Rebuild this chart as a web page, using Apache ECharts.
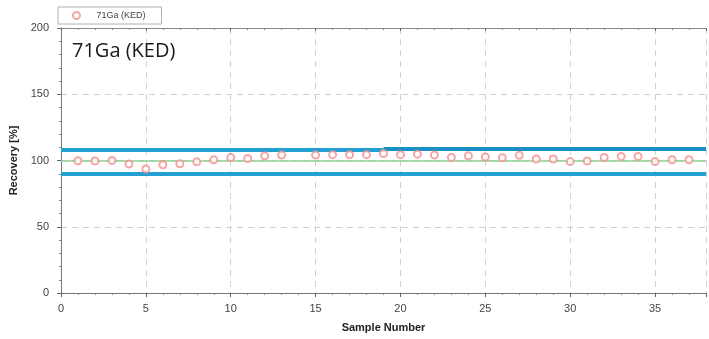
<!DOCTYPE html>
<html><head><meta charset="utf-8">
<script src="https://cdn.jsdelivr.net/npm/echarts@6/dist/echarts.min.js"></script>
<style>html,body{margin:0;padding:0;background:#fff}#c{width:709px;height:339px}</style>
</head><body><div id="c"></div>
<script>
const seriesName = '71Ga (KED)';
const titleText = '71Ga (KED)';
const sampleNumbers = [1,2,3,4,5,6,7,8,9,10,11,12,13,15,16,17,18,19,20,21,22,23,24,25,26,27,28,29,30,31,32,33,34,35,36,37];
const recovery = [99.8,99.6,100.0,97.4,93.6,96.8,97.5,99.0,100.5,102.2,101.5,103.5,104.1,104.1,104.4,104.4,104.4,105.3,104.4,104.8,104.1,102.3,103.6,102.6,102.1,103.9,101.1,101.1,99.2,99.6,102.3,103.1,103.1,99.2,100.6,100.6];
const upperLimitLeft = 108.2;
const upperLimitRight = 109.1;
const lowerLimit = 90;
const centerLine = 100;
const limitBreak = 19;
const xTicks = [0,5,10,15,20,25,30,35];
const yTicks = [0,50,100,150,200];

const chart = echarts.init(document.getElementById('c'));
const font = 'Liberation Sans, Arial, sans-serif';
chart.setOption({
  animation: false,
  grid: {left: 60, right: 0, top: 28, bottom: 46},
  title: {text: titleText, left: 67, top: 36, textStyle: {fontFamily: 'Open Sans, sans-serif', fontSize: 20, fontWeight: 'normal', color: '#1a1a1a'}},
  legend: {
    data: [seriesName], left: 58, top: 7, itemWidth: 10, itemHeight: 7, itemGap: 0,
    borderColor: '#b0b0b0', borderWidth: 1, padding: [4, 16, 4, 14],
    textStyle: {fontFamily: font, fontSize: 9, color: '#444', padding: [0, 0, 0, 10]}
  },
  xAxis: [{
    type: 'value', min: xTicks[0], max: 38, interval: 5, name: 'Sample Number',
    nameLocation: 'middle', nameGap: 29,
    nameTextStyle: {fontFamily: font, fontSize: 11, fontWeight: 'bold', color: '#222'},
    axisLine: {lineStyle: {color: '#777', width: 1}},
    axisTick: {show: true, length: 4, inside: false, lineStyle: {color: '#666'}},
    minorTick: {show: true, splitNumber: 5, length: 2, lineStyle: {color: '#888'}},
    axisLabel: {fontFamily: font, fontSize: 11, color: '#444', margin: 10,
      formatter: v => xTicks.includes(v) ? String(v) : ''},
    splitLine: {show: true, lineStyle: {color: '#d0d0d0', type: [6, 5]}}
  }, {
    type: 'value', position: 'top', min: 0, max: 38, interval: 5,
    axisLine: {show: true, lineStyle: {color: '#888'}},
    axisTick: {show: true, length: 3, inside: true, lineStyle: {color: '#666'}},
    minorTick: {show: true, splitNumber: 5, length: 2, lineStyle: {color: '#888'}},
    axisLabel: {show: false}, splitLine: {show: false}
  }],
  yAxis: {
    type: 'value', min: yTicks[0], max: 200, interval: 50, name: 'Recovery [%]',
    nameLocation: 'middle', nameGap: 42, nameRotate: 90,
    nameTextStyle: {fontFamily: font, fontSize: 11, fontWeight: 'bold', color: '#222'},
    axisLine: {show: true, lineStyle: {color: '#777'}},
    axisTick: {show: true, length: 4, lineStyle: {color: '#666'}},
    minorTick: {show: true, splitNumber: 5, length: 2, lineStyle: {color: '#888'}},
    axisLabel: {fontFamily: font, fontSize: 11, color: '#444', margin: 12},
    splitLine: {show: true, lineStyle: {color: '#d0d0d0', type: [6, 5]}}
  },
  series: [{
    name: seriesName, type: 'scatter', xAxisIndex: 0,
    data: sampleNumbers.map((x, i) => [x, recovery[i]]),
    symbol: 'emptyCircle', symbolSize: 7, z: 5,
    itemStyle: {color: '#f29090', borderColor: '#f29090', borderWidth: 1.1},
    markLine: {
      silent: true, symbol: 'none', label: {show: false}, z: 3,
      data: [
        [{coord: [0, upperLimitLeft], lineStyle: {color: '#22a0d4', width: 4, type: 'solid'}}, {coord: [limitBreak, upperLimitLeft]}],
        [{coord: [limitBreak, upperLimitRight], lineStyle: {color: '#1890c4', width: 4, type: 'solid'}}, {coord: [38, upperLimitRight]}],
        [{coord: [0, lowerLimit], lineStyle: {color: '#22a0d4', width: 4, type: 'solid'}}, {coord: [38, lowerLimit]}],
        [{coord: [0, centerLine], lineStyle: {color: '#8fd08f', width: 1.5, type: 'solid'}}, {coord: [38, centerLine]}]
      ]
    }
  }]
});
</script></body></html>
